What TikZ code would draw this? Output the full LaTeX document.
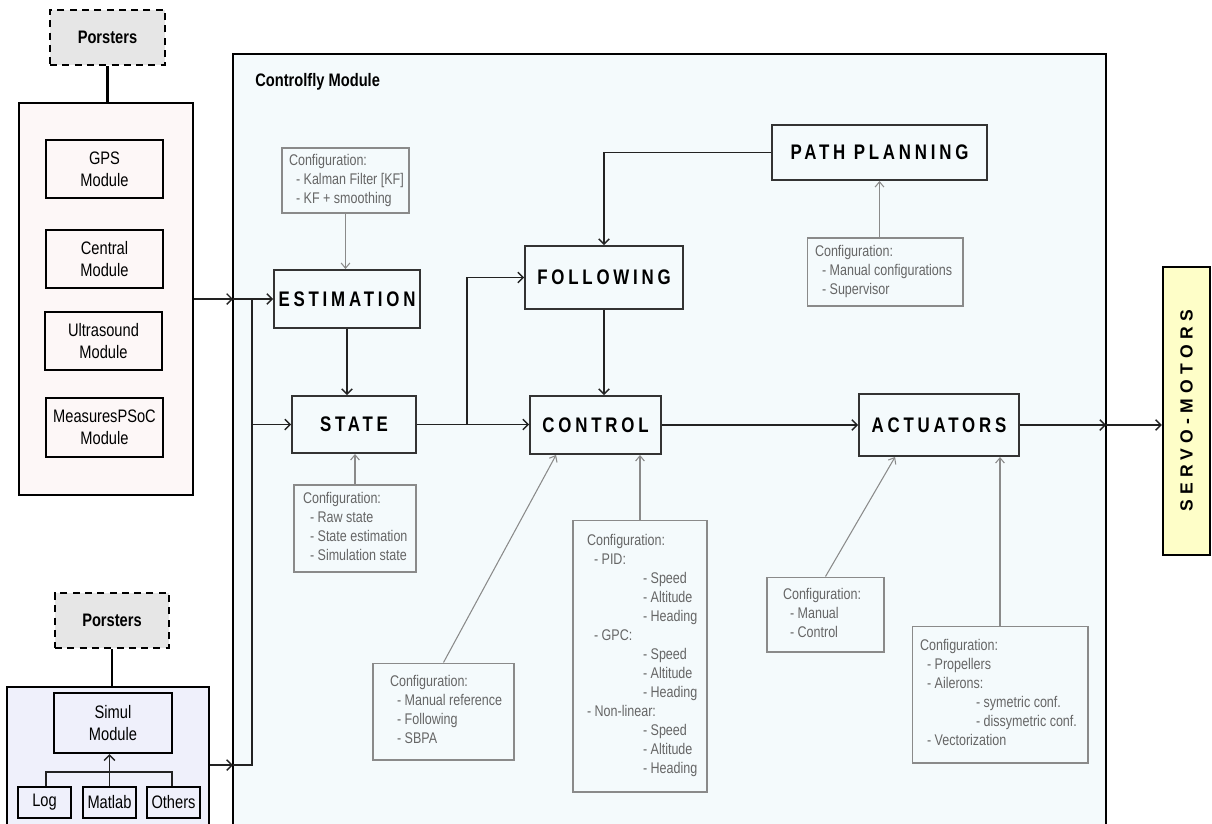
\documentclass[tikz,border=0pt]{standalone}
\usepackage{fontspec}
\setmainfont{Liberation Sans}[FakeStretch=0.81]
\newfontfamily\blkfont{Liberation Sans}[FakeStretch=0.8,LetterSpace=18]
\newfontfamily\servofont{Liberation Sans}[LetterSpace=30]
\usetikzlibrary{arrows.meta}
\definecolor{cfbg}{HTML}{F4FAFC}
\definecolor{sensbg}{HTML}{FDF7F7}
\definecolor{simbg}{HTML}{EFF0FB}
\definecolor{porbg}{HTML}{E6E6E6}
\definecolor{servobg}{HTML}{FEFEC8}
\definecolor{blkline}{HTML}{333333}
\definecolor{cfgline}{HTML}{8A8A8A}
\definecolor{cfgtext}{HTML}{666666}
\definecolor{conline}{HTML}{222222}
\newcommand\cfgtxt[2]{\makebox[#1][l]{\begin{tabular}{@{}l@{}}#2\end{tabular}}}
\newcommand\ia{\hspace*{0.14cm}}
\newcommand\ib{\hspace*{1.12cm}}
\begin{document}
\begin{tikzpicture}[x=0.02cm,y=-0.02cm,
  blk/.style={draw=blkline,line width=1.1pt,fill=cfbg,inner sep=0pt,
    font={\fontsize{12}{14}\blkfont\bfseries}},
  mod/.style={draw=black,line width=1.4pt,fill=sensbg,inner sep=0pt,align=center,
    font={\fontsize{10.3}{12.7}\selectfont}},
  small/.style={draw=black,line width=0.8pt,fill=simbg,inner sep=0pt,
    font={\fontsize{10.3}{12.7}\selectfont}},
  outer/.style={draw=black,line width=1.6pt,inner sep=0pt},
  porst/.style={draw=black,line width=1.1pt,dash pattern=on 4pt off 3pt,fill=porbg,
    inner sep=0pt,minimum width=2.3cm,minimum height=1.1cm,
    font={\fontsize{10.3}{12}\selectfont\bfseries}},
  cfg/.style={draw=cfgline,line width=0.6pt,fill=cfbg,text=cfgtext,
    inner ysep=0pt,font={\fontsize{8.8}{10.8}\selectfont}},
  arr/.style={draw=conline,line width=0.8pt,-{Straight Barb[length=3pt,width=6pt]}},
  con/.style={draw=conline,line width=0.8pt},
  cfgarr/.style={draw=cfgline,line width=0.6pt,-{Straight Barb[length=3pt,width=5pt]}},
  thickcon/.style={draw=black,line width=1.6pt}]
\useasboundingbox (0,0) rectangle (1212,823);
\clip (0,0) rectangle (1212,823);
\fill[white] (0,0) rectangle (1212,823);

% outer containers
\node[outer,fill=cfbg,minimum width=17.46cm,minimum height=15.72cm] (cf) at (669.5,447) {};
\node[anchor=west,inner sep=0pt,font={\fontsize{10.3}{12}\selectfont\bfseries}] (cftitle) at (255,82) {Controlfly Module};
\node[outer,fill=sensbg,minimum width=3.48cm,minimum height=7.84cm] (sens) at (106,299) {};
\node[outer,fill=simbg,minimum width=4.04cm,minimum height=3.06cm] (simbox) at (108,763.5) {};

% porsters
\node[porst] (p1) at (107.5,37.5) {Porsters};
\node[porst,minimum width=2.28cm] (p2) at (112,620.5) {Porsters};
\draw[thickcon] (p1.south) -- (p1.south |- sens.north);
\draw[thickcon] (p2.south) -- (p2.south |- simbox.north);

% sensor modules
\node[mod,minimum width=2.34cm,minimum height=1.16cm] (gps) at (104.5,169) {GPS\\Module};
\node[mod,minimum width=2.34cm,minimum height=1.16cm] (central) at (104.5,259) {Central\\Module};
\node[mod,minimum width=2.34cm,minimum height=1.16cm] (ultra) at (103.5,341) {Ultrasound\\Module};
\node[mod,minimum width=2.34cm,minimum height=1.18cm] (meas) at (104.5,427.5) {MeasuresPSoC\\Module};

% simul modules
\node[mod,fill=simbg,minimum width=2.36cm,minimum height=1.2cm] (simul) at (113,723) {Simul\\Module};
\node[small,minimum width=1.06cm,minimum height=0.62cm] (log) at (44.5,802.5) {Log};
\node[small,minimum width=1.06cm,minimum height=0.62cm] (matlab) at (109.5,802.5) {Matlab};
\node[small,minimum width=1.06cm,minimum height=0.62cm] (others) at (173.5,802.5) {Others};
\coordinate (tl) at (46,772);
\coordinate (tr) at (172,772);
\draw[draw=conline,line width=0.8pt] (tl |- log.north) -- (tl) -- (tr) -- (tr |- others.north);
\draw[arr] (matlab.north) -- (matlab.north |- simul.south);

% main blocks
\node[blk,minimum width=2.92cm,minimum height=1.16cm] (est) at (347,299) {ESTIMATION};
\node[blk,minimum width=2.48cm,minimum height=1.14cm] (st) at (354,424.5) {STATE};
\node[blk,minimum width=3.16cm,minimum height=1.26cm] (fol) at (604,277.5) {FOLLOWING};
\node[blk,minimum width=4.3cm,minimum height=1.1cm] (pp) at (879.5,152.5) {PATH PLANNING};
\node[blk,minimum width=2.62cm,minimum height=1.16cm] (ctl) at (595.5,425) {CONTROL};
\node[blk,minimum width=3.2cm,minimum height=1.24cm] (act) at (939,425) {ACTUATORS};
\node[draw=black,line width=1.3pt,fill=servobg,rotate=90,inner sep=0pt,
  minimum width=5.76cm,minimum height=0.94cm,
  font={\fontsize{10}{12}\servofont\bfseries}] (servo) at (1186.5,411) {SERVO-MOTORS};

% configuration boxes
\node[cfg,inner xsep=0.14cm,minimum height=1.3cm] (estc) at (345.5,180.5)
  {\cfgtxt{2.26cm}{Configuration:\\\ia- Kalman Filter [KF]\\\ia- KF + smoothing}};
\node[cfg,inner xsep=0.18cm,minimum height=1.74cm] (stc) at (355,528.5)
  {\cfgtxt{2.08cm}{Configuration:\\\ia- Raw state\\\ia- State estimation\\\ia- Simulation state}};
\node[cfg,inner xsep=0.16cm,minimum height=1.36cm] (ppc) at (885,272)
  {\cfgtxt{2.8cm}{Configuration:\\\ia- Manual configurations\\\ia- Supervisor}};
\node[cfg,inner xsep=0.34cm,minimum height=1.94cm] (cc1) at (443.5,711.5)
  {\cfgtxt{2.14cm}{Configuration:\\\ia- Manual reference\\\ia- Following\\\ia- SBPA}};
\node[cfg,inner xsep=0.28cm,minimum height=5.44cm] (cc2) at (640,656)
  {\cfgtxt{2.12cm}{Configuration:\\\ia- PID:\\\ib- Speed\\\ib- Altitude\\\ib- Heading\\
   \ia- GPC:\\\ib- Speed\\\ib- Altitude\\\ib- Heading\\
   - Non-linear:\\\ib- Speed\\\ib- Altitude\\\ib- Heading}};
\node[cfg,inner xsep=0.32cm,minimum height=1.5cm] (ac1) at (825.5,614.5)
  {\cfgtxt{1.7cm}{Configuration:\\\ia- Manual\\\ia- Control}};
\node[cfg,inner xsep=0.16cm,minimum height=2.74cm] (ac2) at (1000,694.5)
  {\cfgtxt{3.2cm}{Configuration:\\\ia- Propellers\\\ia- Ailerons:\\\ib- symetric conf.\\\ib- dissymetric conf.\\\ia- Vectorization}};

% input connectors
\coordinate (cfin1) at (233,299);
\coordinate (cfin2) at (233,765);
\coordinate (j1) at (252,299);
\coordinate (j2) at (252,765);
\draw[arr] (sens.east |- cfin1) -- (cfin1);
\draw[arr] (cfin1) -- (est.west);
\draw[arr] (simbox.east |- cfin2) -- (cfin2);
\draw[con] (cfin2) -- (j2) -- (j1);
\draw[arr] (j1 |- st.west) -- (st.west);

% main flow
\draw[arr] (est.south) -- (est.south |- st.north);
\draw[arr] (st.east) -- (st.east -| ctl.west);
\coordinate (b1) at (467,424.5);
\draw[arr] (b1) |- (fol.west);
\draw[arr] (pp.west) -| (fol.north);
\draw[arr] (fol.south) -- (fol.south |- ctl.north);
\draw[arr] (ctl.east) -- (ctl.east -| act.west);
\coordinate (cfout) at (1106,425);
\draw[arr] (act.east) -- (cfout);
\draw[arr] (cfout) -- (cfout -| servo.north);

% configuration connectors
\draw[cfgarr] (estc.south) -- (estc.south |- est.north);
\draw[cfgarr] (stc.north) -- (stc.north |- st.south);
\draw[cfgarr] (pp.south |- ppc.north) -- (pp.south);
\draw[cfgarr] (cc1.north) -- ([xshift=0.54cm]ctl.south west);
\draw[cfgarr] (cc2.north) -- (cc2.north |- ctl.south);
\draw[cfgarr] (ac1.north) -- ([xshift=0.74cm]act.south west);
\draw[cfgarr] (ac2.north) -- (ac2.north |- act.south);
\end{tikzpicture}
\end{document}
